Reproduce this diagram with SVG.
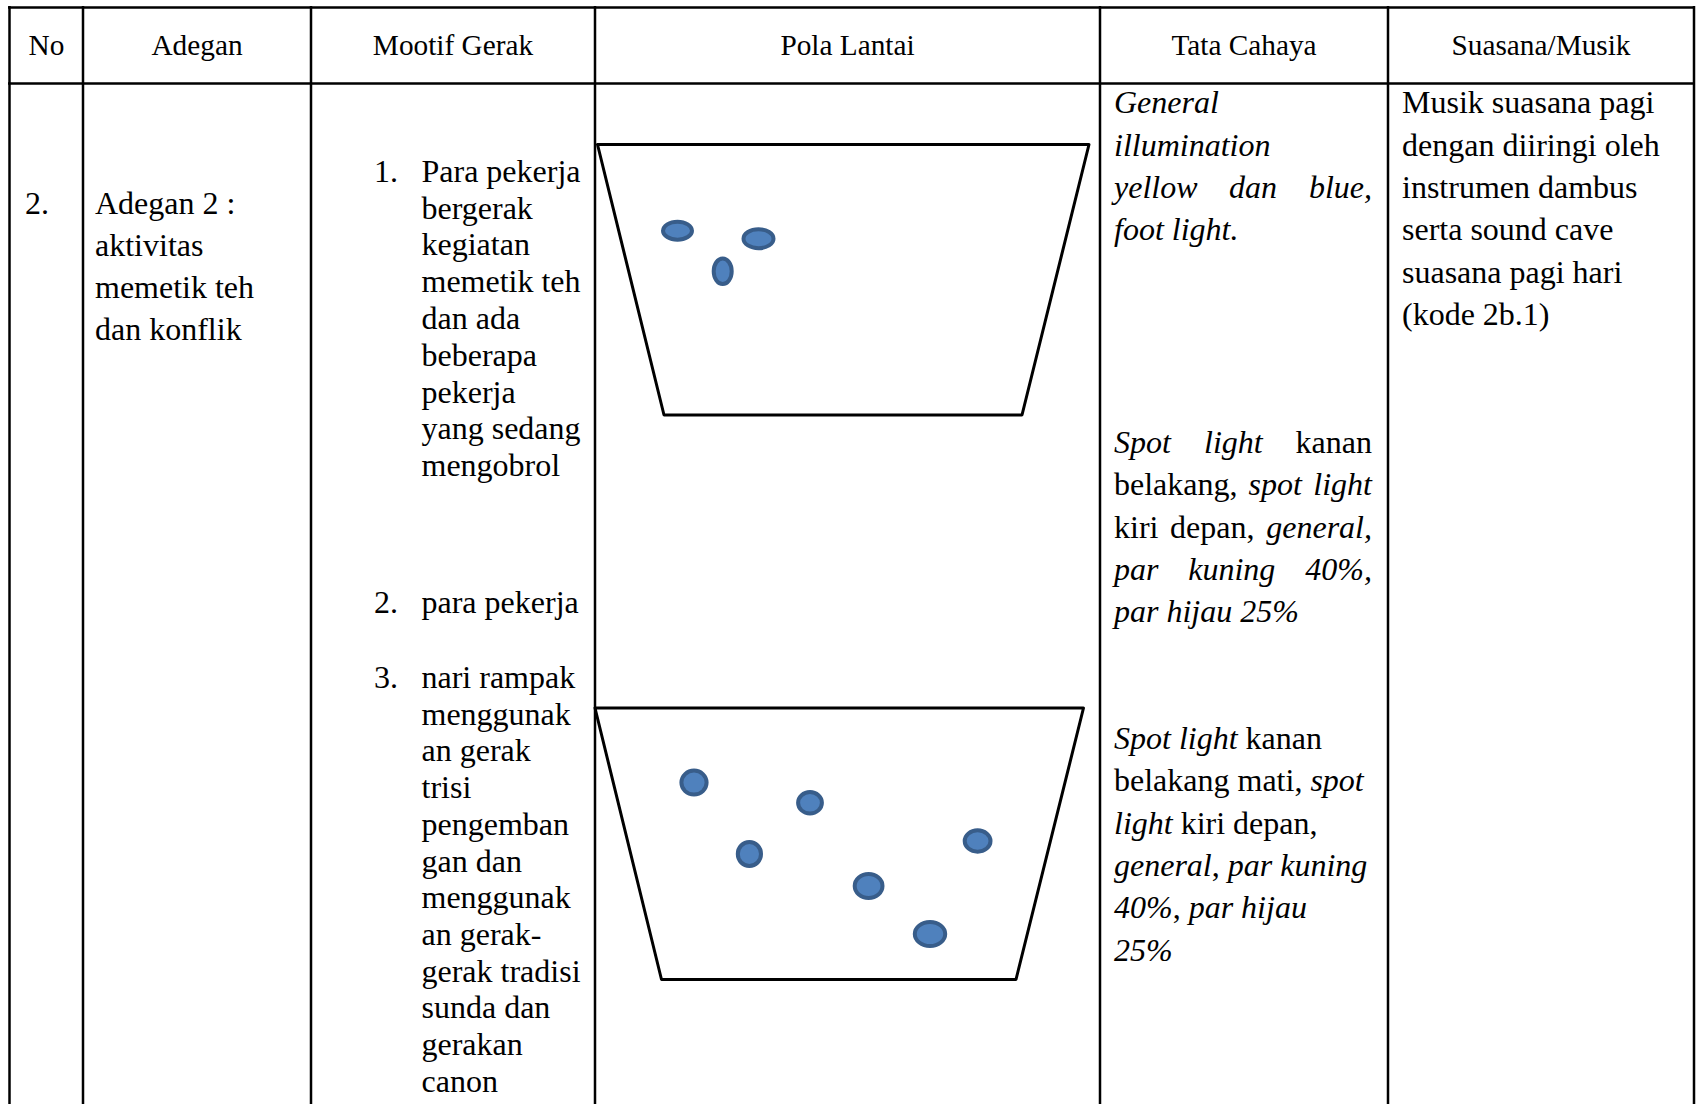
<svg xmlns="http://www.w3.org/2000/svg" width="1699" height="1104" viewBox="0 0 1699 1104">
  <style>
    .grid { stroke: #000; stroke-width: 2.5; fill: none; }
    .hd { font-family: "Liberation Serif", "Times New Roman", serif; font-size: 29.3px; fill: #000; text-anchor: middle; }
    .tx { font-family: "Liberation Serif", "Times New Roman", serif; font-size: 32px; fill: #000; }
    .it { font-style: italic; }
    .end { text-anchor: end; }
    .stage { fill: #fff; stroke: #000; stroke-width: 3; stroke-linejoin: round; }
    .dancer { fill: #4F81BD; stroke: #385D8A; stroke-width: 4; }
  </style>

  <rect x="0" y="0" width="1699" height="1104" fill="#fff"/>

  <!-- table grid -->
  <g id="table-grid" class="grid">
    <line x1="8" y1="7.5" x2="1695" y2="7.5"/>
    <line x1="8" y1="83.5" x2="1695" y2="83.5"/>
    <line x1="9.5" y1="6" x2="9.5" y2="1104"/>
    <line x1="83" y1="6" x2="83" y2="1104"/>
    <line x1="311" y1="6" x2="311" y2="1104"/>
    <line x1="595" y1="6" x2="595" y2="1104"/>
    <line x1="1100" y1="6" x2="1100" y2="1104"/>
    <line x1="1388" y1="6" x2="1388" y2="1104"/>
    <line x1="1694" y1="6" x2="1694" y2="1104"/>
  </g>

  <!-- header row -->
  <g id="header">
    <text class="hd" x="46.5" y="55">No</text>
    <text class="hd" x="197" y="55">Adegan</text>
    <text class="hd" x="453" y="55">Mootif Gerak</text>
    <text class="hd" x="847.5" y="55">Pola Lantai</text>
    <text class="hd" x="1244" y="55">Tata Cahaya</text>
    <text class="hd" x="1541" y="55">Suasana/Musik</text>
  </g>

  <!-- column: No -->
  <g id="cell-no">
    <text class="tx" x="25" y="213.5">2.</text>
  </g>

  <!-- column: Adegan -->
  <g id="cell-adegan" class="tx">
    <text class="tx" x="95" y="213.5">Adegan 2 :</text>
    <text class="tx" x="95" y="255.8">aktivitas</text>
    <text class="tx" x="95" y="298.1">memetik teh</text>
    <text class="tx" x="95" y="340.4">dan konflik</text>
  </g>

  <!-- column: Mootif Gerak -->
  <g id="cell-mootif">
    <text class="tx" x="374" y="181.7">1.</text>
    <text class="tx" x="421.5" y="181.7">Para pekerja</text>
    <text class="tx" x="421.5" y="218.5">bergerak</text>
    <text class="tx" x="421.5" y="255.3">kegiatan</text>
    <text class="tx" x="421.5" y="292.1">memetik teh</text>
    <text class="tx" x="421.5" y="328.9">dan ada</text>
    <text class="tx" x="421.5" y="365.7">beberapa</text>
    <text class="tx" x="421.5" y="402.5">pekerja</text>
    <text class="tx" x="421.5" y="439.3">yang sedang</text>
    <text class="tx" x="421.5" y="476.1">mengobrol</text>

    <text class="tx" x="374" y="613">2.</text>
    <text class="tx" x="421.5" y="613">para pekerja</text>

    <text class="tx" x="374" y="688">3.</text>
    <text class="tx" x="421.5" y="688">nari rampak</text>
    <text class="tx" x="421.5" y="724.7">menggunak</text>
    <text class="tx" x="421.5" y="761.4">an gerak</text>
    <text class="tx" x="421.5" y="798.1">trisi</text>
    <text class="tx" x="421.5" y="834.8">pengemban</text>
    <text class="tx" x="421.5" y="871.5">gan dan</text>
    <text class="tx" x="421.5" y="908.2">menggunak</text>
    <text class="tx" x="421.5" y="944.9">an gerak-</text>
    <text class="tx" x="421.5" y="981.6">gerak tradisi</text>
    <text class="tx" x="421.5" y="1018.3">sunda dan</text>
    <text class="tx" x="421.5" y="1055">gerakan</text>
    <text class="tx" x="421.5" y="1091.7">canon</text>
  </g>

  <!-- column: Pola Lantai, first formation -->
  <g id="floor-pattern-1">
    <polygon class="stage" points="597.5,144.5 1089,144.5 1022,415 664,415"/>
    <ellipse class="dancer" cx="677.5" cy="230.7" rx="14.5" ry="9"/>
    <ellipse class="dancer" cx="758.5" cy="238.7" rx="15" ry="9.5"/>
    <ellipse class="dancer" cx="722.7" cy="271.3" rx="9" ry="12.8"/>
  </g>

  <!-- column: Pola Lantai, second formation -->
  <g id="floor-pattern-2">
    <polygon class="stage" points="595,708 1083.5,708 1016,979.5 661.5,979.5"/>
    <ellipse class="dancer" cx="694" cy="782.6" rx="12.6" ry="12"/>
    <ellipse class="dancer" cx="810" cy="802.8" rx="11.9" ry="10.7"/>
    <ellipse class="dancer" cx="749.4" cy="854" rx="11.6" ry="12"/>
    <ellipse class="dancer" cx="977.6" cy="841" rx="12.9" ry="10.7"/>
    <ellipse class="dancer" cx="868.6" cy="886" rx="13.9" ry="12"/>
    <ellipse class="dancer" cx="930" cy="934" rx="15.2" ry="12"/>
  </g>

  <!-- column: Tata Cahaya -->
  <g id="cell-lighting">
    <text class="tx it" x="1114" y="113.4">General</text>
    <text class="tx it" x="1114" y="155.7">illumination</text>
    <text class="tx it" x="1114" y="198">yellow</text>
    <text class="tx it" x="1229" y="198">dan</text>
    <text class="tx it end" x="1372" y="198">blue,</text>
    <text class="tx it" x="1114" y="240.3">foot light.</text>

    <text class="tx it" x="1114" y="453">Spot</text>
    <text class="tx it" x="1204" y="453">light</text>
    <text class="tx end" x="1372" y="453">kanan</text>
    <text class="tx" x="1114" y="495.3">belakang,</text>
    <text class="tx it" x="1248.6" y="495.3">spot</text>
    <text class="tx it end" x="1372" y="495.3">light</text>
    <text class="tx" x="1114" y="537.6">kiri</text>
    <text class="tx" x="1170" y="537.6">depan,</text>
    <text class="tx it end" x="1372" y="537.6">general,</text>
    <text class="tx it" x="1114" y="579.9">par</text>
    <text class="tx it" x="1188.2" y="579.9">kuning</text>
    <text class="tx it end" x="1372" y="579.9">40%,</text>
    <text class="tx it" x="1114" y="622.2">par hijau 25%</text>

    <text class="tx" x="1114" y="749"><tspan class="it">Spot light</tspan> kanan</text>
    <text class="tx" x="1114" y="791.3">belakang mati, <tspan class="it">spot</tspan></text>
    <text class="tx" x="1114" y="833.6"><tspan class="it">light</tspan> kiri depan,</text>
    <text class="tx" x="1114" y="875.9"><tspan class="it">general</tspan>, <tspan class="it">par kuning</tspan></text>
    <text class="tx" x="1114" y="918.2"><tspan class="it">40%</tspan>, <tspan class="it">par hijau</tspan></text>
    <text class="tx it" x="1114" y="960.5">25%</text>
  </g>

  <!-- column: Suasana/Musik -->
  <g id="cell-music">
    <text class="tx" x="1402" y="113.4">Musik suasana pagi</text>
    <text class="tx" x="1402" y="155.7">dengan diiringi oleh</text>
    <text class="tx" x="1402" y="198">instrumen dambus</text>
    <text class="tx" x="1402" y="240.3">serta sound cave</text>
    <text class="tx" x="1402" y="282.6">suasana pagi hari</text>
    <text class="tx" x="1402" y="324.9">(kode 2b.1)</text>
  </g>
</svg>
